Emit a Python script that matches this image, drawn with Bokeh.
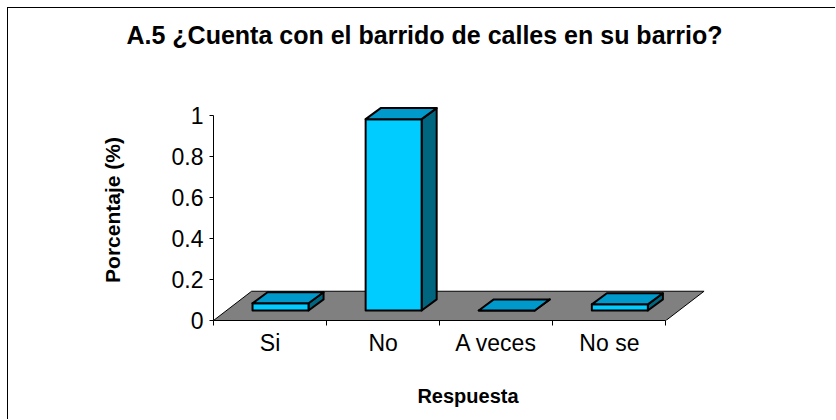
from bokeh.plotting import figure
from bokeh.models import FixedTicker, Range1d, Title
from bokeh.embed import file_html
from bokeh.resources import INLINE

# ---- data ----
title_text = "A.5 ¿Cuenta con el barrido de calles en su barrio?"
categories = ["Si", "No", "A veces", "No se"]
values = [0.035, 0.935, 0.0, 0.03]
y_ticks = [0, 0.2, 0.4, 0.6, 0.8, 1]
y_tick_labels = ["0", "0.2", "0.4", "0.6", "0.8", "1"]

# ---- 3D geometry (style) ----
FONT = "Liberation Sans"
n = len(categories)
floor_dx, floor_dy = 0.337, 0.143      # floor depth offset (data units)
bar_x0, bar_x1 = 0.345, 0.84           # front face within category
base = 0.049                            # bar base raised by depth position
bdx, bdy = 0.133, 0.054                 # bar depth offset
FRONT, TOP, SIDE = "#00CCFF", "#0099CC", "#006680"

p = figure(width=828, height=412, output_backend="svg", toolbar_location=None,
           x_range=Range1d(0, 4.5), y_range=Range1d(0, 1.08),
           min_border_left=205, min_border_right=114,
           min_border_top=91, min_border_bottom=100)
p.outline_line_color = None
p.grid.visible = False
p.background_fill_color = "white"
p.border_fill_color = "white"
p.styles = {"margin-left": "7px", "margin-top": "7px",
            "border-left": "1px solid black", "border-top": "1px solid black"}

# floor
p.patch([0, n, n + floor_dx, floor_dx], [0, 0, floor_dy, floor_dy],
        fill_color="#808080", line_color="black", line_width=1)

# bars
side_x, side_y, front_x, front_y, top_x, top_y = [], [], [], [], [], []
for i, v in enumerate(values):
    x0, x1 = i + bar_x0, i + bar_x1
    y0, y1 = base, base + v
    front_x.append([x0, x1, x1, x0]); front_y.append([y0, y0, y1, y1])
    side_x.append([x1, x1 + bdx, x1 + bdx, x1]); side_y.append([y0, y0 + bdy, y1 + bdy, y1])
    top_x.append([x0, x1, x1 + bdx, x0 + bdx]); top_y.append([y1, y1, y1 + bdy, y1 + bdy])
p.patches(side_x, side_y, fill_color=SIDE, line_color="black", line_width=2, line_join="round")
p.patches(front_x, front_y, fill_color=FRONT, line_color="black", line_width=2, line_join="round")
p.patches(top_x, top_y, fill_color=TOP, line_color="black", line_width=2, line_join="round")

# x axis
xa = p.xaxis[0]
xa.ticker = FixedTicker(ticks=[i + 0.5 for i in range(n)], minor_ticks=list(range(n + 1)))
xa.major_label_overrides = {i + 0.5: c for i, c in enumerate(categories)}
xa.bounds = (0, n)
xa.major_tick_out = 0
xa.major_tick_in = 0
xa.minor_tick_out = 5
xa.minor_tick_in = 0
xa.minor_tick_line_color = "black"
xa.axis_line_color = "black"
xa.major_label_text_font = FONT
xa.major_label_text_font_size = "23px"
xa.major_label_text_color = "black"
xa.major_label_standoff = 4
xa.axis_label = "Respuesta"
xa.axis_label_text_font = FONT
xa.axis_label_text_font_size = "20px"
xa.axis_label_text_font_style = "bold"
xa.axis_label_text_color = "black"
xa.axis_label_standoff = 26

# y axis
ya = p.yaxis[0]
ya.ticker = FixedTicker(ticks=y_ticks, minor_ticks=[])
ya.major_label_overrides = {t: l for t, l in zip(y_ticks, y_tick_labels)}
ya.bounds = (0, 1)
ya.major_tick_out = 4
ya.major_tick_in = 0
ya.axis_line_color = "black"
ya.major_tick_line_color = "black"
ya.major_label_text_font = FONT
ya.major_label_text_font_size = "23px"
ya.major_label_text_color = "black"
ya.major_label_standoff = 6
ya.axis_label = "Porcentaje (%)"
ya.axis_label_text_font = FONT
ya.axis_label_text_font_size = "21px"
ya.axis_label_text_font_style = "bold"
ya.axis_label_text_color = "black"
ya.axis_label_standoff = 45

# spacer panel between plot area and title
p.add_layout(Title(text=" ", text_font_size="1px", standoff=46), "above")

# title
p.title.text = title_text
p.title.text_font = FONT
p.title.text_font_size = "25px"
p.title.text_font_style = "bold"
p.title.text_color = "black"
p.title.align = "left"
p.title.offset = -87
p.title.vertical_align = "top"
p.title.standoff = 0

open("out.html", "w").write(file_html(p, INLINE))
